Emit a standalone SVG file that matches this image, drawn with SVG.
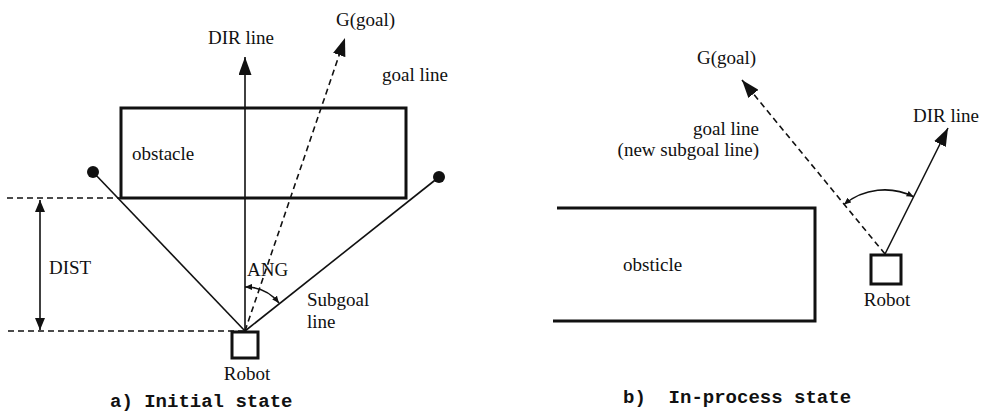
<svg xmlns="http://www.w3.org/2000/svg" width="987" height="413" viewBox="0 0 987 413">
<style>
.t{font-family:"Liberation Serif","Times New Roman",serif;font-size:19px;fill:#111}
.cap{font-family:"Liberation Mono","Courier New",monospace;font-size:19px;font-weight:bold;fill:#111}
.ln{stroke:#111;stroke-width:1.6;fill:none}
.ds{stroke:#111;stroke-width:1.6;fill:none;stroke-dasharray:6 4}
.box{stroke:#111;stroke-width:3;fill:none}
.obs{stroke:#111;stroke-width:3;fill:none}
</style>
<defs>
<marker id="ah" markerUnits="userSpaceOnUse" markerWidth="18" markerHeight="13" refX="18" refY="6.5" orient="auto"><path d="M0,0 L18,6.5 L0,13 z" fill="#111"/></marker>
<marker id="as" markerUnits="userSpaceOnUse" markerWidth="12" markerHeight="10" refX="12" refY="5" orient="auto-start-reverse"><path d="M0,0 L12,5 L0,10 z" fill="#111"/></marker>
<marker id="sm" markerUnits="userSpaceOnUse" markerWidth="7" markerHeight="6" refX="7" refY="3" orient="auto-start-reverse"><path d="M0,0 L7,3 L0,6 z" fill="#111"/></marker>
</defs>

<g id="panel-a">
  <g id="obstacle-a">
    <rect class="obs" x="121" y="108" width="285" height="90"/>
    <text class="t" x="132" y="160">obstacle</text>
  </g>
  <g id="robot-a">
    <rect class="box" x="232" y="332" width="26" height="26"/>
    <text class="t" x="247" y="380" text-anchor="middle">Robot</text>
  </g>
  <g id="subgoal-left">
    <circle cx="93" cy="172" r="6" fill="#111"/>
  </g>
  <g id="subgoal-right">
    <circle cx="439" cy="177" r="6" fill="#111"/>
  </g>
  <g id="connectors-a">
    <line class="ln" x1="245" y1="331" x2="245" y2="57" marker-end="url(#ah)"/>
    <line class="ds" x1="245" y1="331" x2="345" y2="38" marker-end="url(#ah)"/>
    <line class="ln" x1="93" y1="172" x2="245" y2="331"/>
    <line class="ln" x1="439" y1="177" x2="245" y2="331"/>
    <line class="ds" x1="7" y1="198" x2="121" y2="198"/>
    <line class="ds" x1="8" y1="331" x2="245" y2="331"/>
    <line class="ln" x1="40" y1="200" x2="40" y2="330" marker-start="url(#as)" marker-end="url(#as)"/>
    <path class="ln" d="M245,287 A43,43 0 0 1 279,303" marker-start="url(#sm)" marker-end="url(#sm)"/>
  </g>
  <text class="t" x="336" y="26">G(goal)</text>
  <text class="t" x="208" y="44">DIR line</text>
  <text class="t" x="382" y="81">goal line</text>
  <text class="t" x="49" y="274">DIST</text>
  <text class="t" x="247" y="276">ANG</text>
  <text class="t" x="307" y="306">Subgoal</text>
  <text class="t" x="307" y="328">line</text>
  <text class="cap" x="110" y="407">a) Initial state</text>
</g>

<g id="panel-b">
  <g id="obstacle-b">
    <path class="obs" d="M557,208 L815,208 L815,321 L553,321"/>
    <text class="t" x="623" y="271">obsticle</text>
  </g>
  <g id="robot-b">
    <rect class="box" x="871" y="255" width="30" height="29"/>
    <text class="t" x="887" y="306" text-anchor="middle">Robot</text>
  </g>
  <g id="connectors-b">
    <line class="ds" x1="885" y1="254" x2="742" y2="80" marker-end="url(#ah)"/>
    <line class="ln" x1="885" y1="254" x2="948" y2="128" marker-end="url(#ah)"/>
    <path class="ln" d="M844,204.5 A64,64 0 0 1 913.6,196.8" marker-start="url(#sm)" marker-end="url(#sm)"/>
  </g>
  <text class="t" x="697" y="64">G(goal)</text>
  <text class="t" x="913" y="122">DIR line</text>
  <text class="t" x="759" y="135" text-anchor="end">goal line</text>
  <text class="t" x="759" y="156" text-anchor="end">(new subgoal line)</text>
  <text class="cap" x="623" y="403" xml:space="preserve">b)  In-process state</text>
</g>
</svg>
